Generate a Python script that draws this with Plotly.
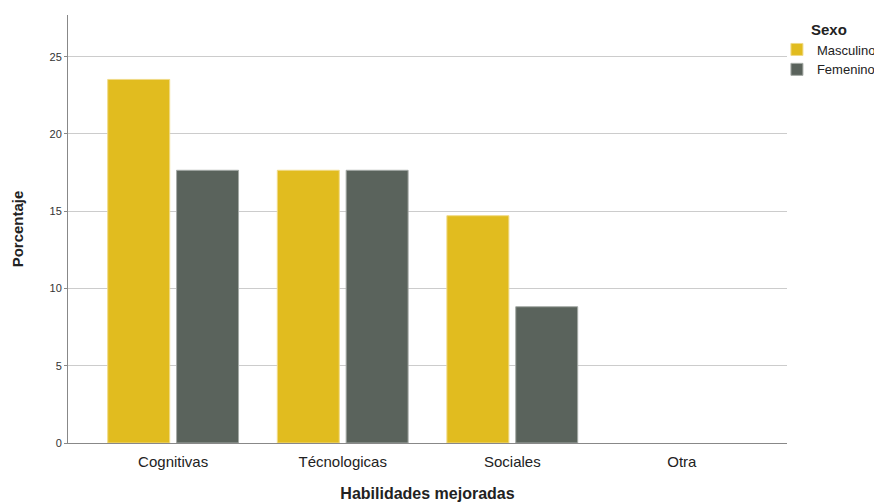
import plotly.graph_objects as go

categories = ["Cognitivas", "Técnologicas", "Sociales", "Otra"]
masculino = [23.53, 17.65, 14.71, 0]
femenino = [17.65, 17.65, 8.82, 0]
y_ticks = [0, 5, 10, 15, 20, 25]

FONT = "Liberation Sans, Arial, sans-serif"

outline = [1 if v > 0 else 0 for v in masculino]
outline_f = [1 if v > 0 else 0 for v in femenino]

fig = go.Figure()
fig.add_trace(go.Bar(x=categories, y=masculino, name="Masculino",
                     marker=dict(color="#E1BC1F", line=dict(color="#F0DA86", width=outline))))
fig.add_trace(go.Bar(x=categories, y=femenino, name="Femenino",
                     marker=dict(color="#5A635C", line=dict(color="#A5AAA6", width=outline_f))))

# page body adds an 8px offset, so the figure is sized to fit the remaining window
fig.update_layout(
    width=874, height=496,
    margin=dict(l=60, r=95, t=7, b=61, autoexpand=False),
    paper_bgcolor="white", plot_bgcolor="white",
    font=dict(family=FONT, color="#222"),
    barmode="group", bargap=0.188, bargroupgap=0.10,
    showlegend=True,
    legend=dict(
        title=dict(text="<b>Sexo</b>", font=dict(size=15, color="#222"), side="top center"),
        x=0.986, xanchor="left", y=1.0, yanchor="top",
        font=dict(size=13, color="#222"),
        itemwidth=30, tracegroupgap=0, bgcolor="rgba(0,0,0,0)",
    ),
    xaxis=dict(
        range=[-0.62, 3.62], showline=True, linecolor="#888", linewidth=1,
        showgrid=False, ticks="outside", ticklen=5, tickcolor="rgba(0,0,0,0)",
        tickfont=dict(size=15, color="#222"),
        automargin=False,
        title=dict(text="<b>Habilidades mejoradas</b>", font=dict(size=16, color="#222"), standoff=18),
        fixedrange=True,
    ),
    yaxis=dict(
        range=[0, 27.7], tickvals=y_ticks, showline=True, linecolor="#888", linewidth=1,
        showgrid=True, gridcolor="#CCCCCC", gridwidth=1, zeroline=False,
        ticks="outside", ticklen=3, tickcolor="#888",
        tickfont=dict(size=11, color="#333"), automargin=False,
        title=dict(text="<b>Porcentaje</b>", font=dict(size=15, color="#222"), standoff=22),
    ),
)

fig.write_html("out.html")
